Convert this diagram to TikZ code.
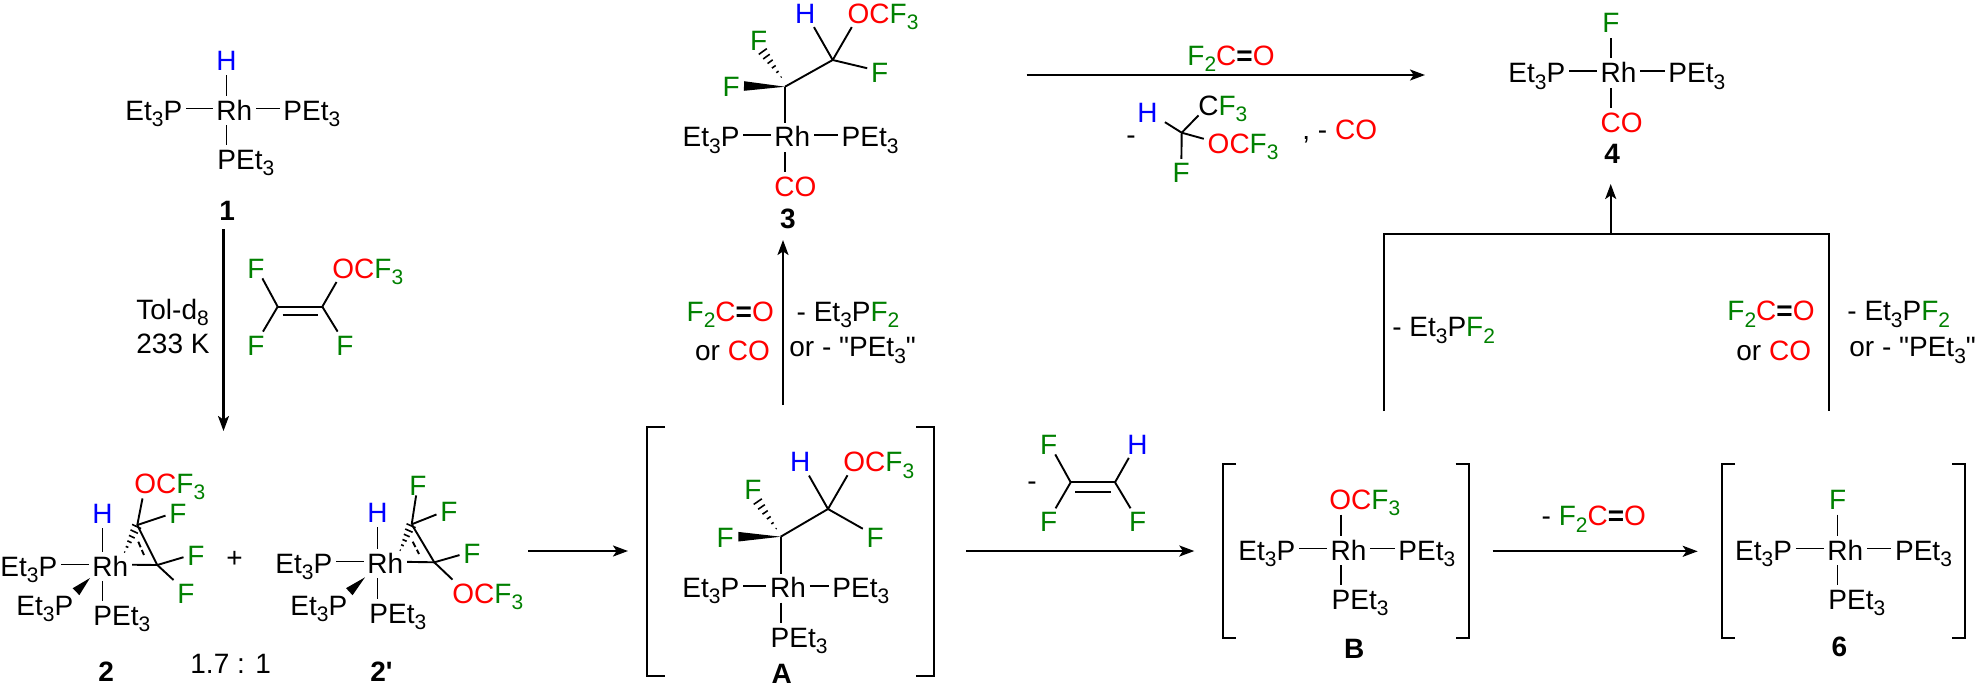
\documentclass[tikz,border=0pt]{standalone}
\usepackage{fontspec}
\newfontfamily\lsans{Liberation Sans}
\usetikzlibrary{arrows.meta,calc}
\definecolor{fgreen}{RGB}{0,128,0}
\newcommand{\subs}[1]{\raisebox{-3.2pt}{\fontsize{10.5}{12}\selectfont #1}}
\newcommand{\PEt}{PEt\subs{3}}
\newcommand{\EtP}{Et\subs{3}P}
\newcommand{\Ff}{\textcolor{fgreen}{F}}
\newcommand{\Hh}{\textcolor{blue}{H}}
\newcommand{\OCF}{\textcolor{red}{OC}\textcolor{fgreen}{F\subs{3}}}
\newcommand{\FCO}{\textcolor{fgreen}{F\subs{2}}\textcolor{red}{C}\textbf{=}\textcolor{red}{O}}
\newcommand{\COr}{\textcolor{red}{CO}}
\newcommand{\hashbond}[2]{\foreach \t [evaluate=\t as \w using 2.6*\t] in {.1,.27,.44,.61,.78,.95}
  \draw[line width=.8pt] ($(#1)!\t!(#2)!\w pt!90:(#2)$) -- ($(#1)!\t!(#2)!\w pt!-90:(#2)$);}
\newcommand{\wedgebond}[2]{\fill (#1) -- ($(#2)!2.4pt!90:(#1)$) -- ($(#2)!2.4pt!-90:(#1)$) -- cycle;}
\tikzset{
  lab/.style={anchor=base west, xshift=-2.75pt, inner xsep=1.75pt, inner ysep=0pt, text height=11.5pt, text depth=0pt, font=\lsans\fontsize{14}{16}\selectfont},
  cmpd/.style={lab, font=\lsans\fontsize{14}{16}\selectfont\bfseries},
  bond/.style={line width=.95pt},
  vb/.style={bond, shorten <=2.5pt, shorten >=.5pt},
  hb/.style={bond, shorten >=2pt},
  bracket/.style={line width=1pt},
  arr/.style={line width=1.05pt, -{Stealth[length=7.5pt,width=5.5pt,inset=1.8pt]}},
}
\begin{document}
\begin{tikzpicture}[x=0.5pt,y=-0.5pt]
\useasboundingbox (0,0) rectangle (1980,687);

\node[lab] (h1) at (218,70) {\Hh};
\node[lab] (et1) at (127,120) {\EtP};
\node[lab] (rh1) at (218,120) {Rh};
\node[lab] (pr1) at (285,120) {\PEt};
\node[lab] (pb1) at (219,169) {\PEt};
\node[cmpd] (n1) at (221,220) {1};
\coordinate (r1) at ([xshift=7pt]rh1.west);
\draw[bond] (et1) -- (rh1);
\draw[bond] (rh1) -- (pr1);
\draw[vb] (r1 |- h1.south) -- (r1 |- rh1.north);
\draw[vb] (r1 |- rh1.south) -- (r1 |- pb1.north);

\coordinate (a1s) at (223.5,229);
\coordinate (a1e) at (223.5,431);
\draw[arr] (a1s) -- (a1e);
\node[lab] (tol) at (138,319) {Tol-d\subs{8}};
\node[lab] (temp) at (138,353) {233 K};
\node[lab] (fa0) at (249,278) {\Ff};
\node[lab] (ocf0) at (334,278) {\OCF};
\node[lab] (fb0) at (249,355) {\Ff};
\node[lab] (fc0) at (338,355) {\Ff};
\coordinate (ca0) at (277.7,306.7);
\coordinate (cb0) at (322.3,306.7);
\coordinate (da0) at (282.7,315);
\coordinate (db0) at (318,315);
\draw[bond] (ca0) -- (cb0);
\draw[bond] (da0) -- (db0);
\draw[bond] (ca0) -- (fa0);
\draw[bond] (ca0) -- (fb0);
\draw[bond] (cb0) -- (fc0);
\draw[bond] (cb0) -- ([xshift=4pt,yshift=-1.8pt]ocf0.south west);

\node[lab] (h2) at (94,523) {\Hh};
\node[lab] (et2) at (2,576) {\EtP};
\node[lab] (rh2) at (94,576) {Rh};
\node[lab] (eb2) at (18,615) {\EtP};
\node[lab] (pb2) at (95,625) {\PEt};
\node[lab] (ocf2) at (136,493) {\OCF};
\node[lab] (fa2) at (171,523) {\Ff};
\node[lab] (fb2) at (189,565) {\Ff};
\node[lab] (fc2) at (179,603) {\Ff};
\node[cmpd] (n2) at (100,681) {2};
\coordinate (r2) at ([xshift=7pt]rh2.west);
\coordinate (ca2) at (137.3,525);
\coordinate (cb2) at (157.3,565);
\coordinate (ha2) at (123.3,555);
\coordinate (wa2) at (90,578);
\coordinate (wb2) at (76,591.7);
\coordinate (da2) at (138.3,541.7);
\coordinate (db2) at (144,555);
\draw[bond] (et2) -- (rh2);
\draw[vb] (r2 |- h2.south) -- (r2 |- rh2.north);
\draw[vb] (r2 |- rh2.south) -- (r2 |- pb2.north);
\draw[bond] (rh2) -- (cb2);
\draw[bond] (ca2) -- (cb2);
\draw[bond] (ca2) -- ([xshift=6pt,yshift=-2.5pt]ocf2.south west);
\draw[bond] (ca2) -- (fa2);
\draw[bond] (cb2) -- (fb2);
\draw[bond] (cb2) -- (fc2);
\draw[bond, dash pattern=on 3pt off 1.5pt] (da2) -- (db2);
\hashbond{ha2}{ca2}
\wedgebond{wa2}{wb2}

\node[lab] (plus) at (228,567) {+};
\node[lab] (ratio) at (192,673) {1.7 : 1};

\node[lab] (h3) at (369,522) {\Hh};
\node[lab] (et3) at (277,573) {\EtP};
\node[lab] (rh3) at (369,573) {Rh};
\node[lab] (eb3) at (292,615) {\EtP};
\node[lab] (pb3) at (371,623) {\PEt};
\node[lab] (ocf3) at (454,603) {\OCF};
\node[lab] (fa3) at (411,495) {\Ff};
\node[lab] (fb3) at (442,521) {\Ff};
\node[lab] (fc3) at (465,563) {\Ff};
\node[cmpd] (n3) at (372,681) {2'};
\coordinate (r3) at ([xshift=7pt]rh3.west);
\coordinate (ca3) at (411.7,524.3);
\coordinate (cb3) at (434.3,562.3);
\coordinate (ha3) at (399,553);
\coordinate (wa3) at (365,577.3);
\coordinate (wb3) at (349.3,591.7);
\coordinate (da3) at (412.7,541.7);
\coordinate (db3) at (419,554);
\draw[bond] (et3) -- (rh3);
\draw[vb] (r3 |- h3.south) -- (r3 |- rh3.north);
\draw[vb] (r3 |- rh3.south) -- (r3 |- pb3.north);
\draw[bond] (rh3) -- (cb3);
\draw[bond] (ca3) -- (cb3);
\draw[bond] (cb3) -- ([xshift=2pt]ocf3.north west);
\draw[bond] (ca3) -- (fa3);
\draw[bond] (ca3) -- (fb3);
\draw[bond] (cb3) -- (fc3);
\draw[bond, dash pattern=on 3pt off 1.5pt] (da3) -- (db3);
\hashbond{ha3}{ca3}
\wedgebond{wa3}{wb3}

\coordinate (a2s) at (528,551);
\coordinate (a2e) at (628,551);
\draw[arr] (a2s) -- (a2e);

\draw[bracket] (665,426.7) -- (646.7,426.7) -- (646.7,675.7) -- (665,675.7);
\draw[bracket] (916,426.7) -- (934,426.7) -- (934,675.7) -- (916,675.7);
\node[lab] (hA) at (791.7,471.7) {\Hh};
\node[lab] (ocfA) at (845,471.7) {\OCF};
\node[lab] (faA) at (746,499.3) {\Ff};
\node[lab] (fbA) at (718.3,547.3) {\Ff};
\node[lab] (fcA) at (868.3,547.3) {\Ff};
\node[lab] (etA) at (684,597.3) {\EtP};
\node[lab] (rhA) at (771.7,597.3) {Rh};
\node[lab] (prA) at (834,597.3) {\PEt};
\node[lab] (pbA) at (772.3,647.3) {\PEt};
\node[cmpd] (nA) at (773.3,683) {A};
\coordinate (caA) at (780.7,536.7);
\coordinate (cbA) at (828,509);
\coordinate (haA) at (778.3,531.7);
\coordinate (hbA) at (756.7,500);
\coordinate (wbA) at (738.3,536.7);
\draw[bond] (etA) -- (rhA);
\draw[bond] (rhA) -- (prA);
\draw[bond] (caA) -- (caA |- rhA.north);
\draw[vb] (caA |- rhA.south) -- (caA |- pbA.north);
\draw[bond] (caA) -- (cbA);
\draw[hb] (cbA) -- (hA);
\draw[bond] (cbA) -- ([xshift=4pt,yshift=-1.6pt]ocfA.south west);
\draw[bond] (cbA) -- (fcA);
\hashbond{haA}{hbA}
\wedgebond{caA}{wbA}

\coordinate (a3s) at (783,405);
\coordinate (a3e) at (783,240);
\draw[arr] (a3s) -- (a3e);
\node[lab] (co1) at (688.3,321) {\FCO};
\node[lab] (co2) at (696.7,360) {or \COr};
\node[lab] (lo1) at (798.3,321) {- \EtP\textcolor{fgreen}{F\subs{2}}};
\node[lab] (lo2) at (791,356.7) {or - "\PEt"};

\node[lab] (hc) at (796.7,23.3) {\Hh};
\node[lab] (ocfc) at (849.3,23.3) {\OCF};
\node[lab] (fac) at (751.7,50) {\Ff};
\node[lab] (fbc) at (724.3,96.7) {\Ff};
\node[lab] (fcc) at (872.7,82.7) {\Ff};
\node[lab] (etc) at (684.3,146.7) {\EtP};
\node[lab] (rhc) at (776,146.7) {Rh};
\node[lab] (prc) at (843.3,146.7) {\PEt};
\node[lab] (coc) at (776,196) {\COr};
\node[cmpd] (nc) at (781.7,228.3) {3};
\coordinate (cac) at (785,86.7);
\coordinate (cbc) at (832.7,60);
\coordinate (hac) at (783.3,80);
\coordinate (hbc) at (761.7,50);
\coordinate (wbc) at (744,86);
\draw[bond] (etc) -- (rhc);
\draw[bond] (rhc) -- (prc);
\draw[bond] (cac) -- (cac |- rhc.north);
\draw[vb] (cac |- rhc.south) -- (cac |- coc.north);
\draw[bond] (cac) -- (cbc);
\draw[hb] (cbc) -- (hc);
\draw[bond] (cbc) -- ([xshift=4pt,yshift=-1.7pt]ocfc.south west);
\draw[bond] (cbc) -- (fcc);
\hashbond{hac}{hbc}
\wedgebond{cac}{wbc}

\coordinate (a4s) at (1026.7,75);
\coordinate (a4e) at (1425,75);
\draw[arr] (a4s) -- (a4e);
\node[lab] (top) at (1189,65) {\FCO};
\node[lab] (dash1) at (1128,144) {-};
\node[lab] (hd) at (1139,122.7) {\Hh};
\node[lab] (cfd) at (1200,115) {C\textcolor{fgreen}{F\subs{3}}};
\node[lab] (ocfd) at (1209.3,153.3) {\OCF};
\node[lab] (fd) at (1174.3,182.3) {\Ff};
\node[lab] (lossco) at (1304,139.3) {, - \COr};
\coordinate (cd) at (1181.7,132.7);
\draw[hb] (cd) -- (hd);
\draw[bond] (cd) -- ([xshift=2pt]cfd.south west);
\draw[bond] (cd) -- ([yshift=1.5pt]ocfd.west);
\draw[bond] (cd) -- (fd);

\node[lab] (f4) at (1604,32.7) {\Ff};
\node[lab] (et4) at (1510,82.7) {\EtP};
\node[lab] (rh4) at (1602.3,82.7) {Rh};
\node[lab] (pr4) at (1670,82.7) {\PEt};
\node[lab] (co4) at (1602.3,132) {\COr};
\node[cmpd] (n4) at (1606,163.3) {4};
\coordinate (r4) at ([xshift=7pt]rh4.west);
\draw[bond] (et4) -- (rh4);
\draw[bond] (rh4) -- (pr4);
\draw[vb] (r4 |- f4.south) -- (r4 |- rh4.north);
\draw[vb] (r4 |- rh4.south) -- (r4 |- co4.north);

\coordinate (tl) at (1383.7,411);
\coordinate (tr) at (1828.6,411);
\coordinate (tm) at (1610.7,234);
\coordinate (a5e) at (1610.7,184);
\draw[line width=1.05pt] (tl) -- (tl |- tm) -- (tr |- tm) -- (tr);
\draw[arr] (tm) -- (a5e);
\node[lab] (r5a) at (1393.9,336.7) {- \EtP\textcolor{fgreen}{F\subs{2}}};
\node[lab] (r5b) at (1729,320.7) {\FCO};
\node[lab] (r5c) at (1738,360) {or \COr};
\node[lab] (r5d) at (1849,320.7) {- \EtP\textcolor{fgreen}{F\subs{2}}};
\node[lab] (r5e) at (1851,356.7) {or - "\PEt"};

\coordinate (a6s) at (966,551);
\coordinate (a6e) at (1194.3,551);
\draw[arr] (a6s) -- (a6e);
\node[lab] (dash2) at (1029,490) {-};
\node[lab] (fae) at (1041.7,454) {\Ff};
\node[lab] (he) at (1129,454) {\Hh};
\node[lab] (fbe) at (1041.7,531.7) {\Ff};
\node[lab] (fce) at (1130.7,531.7) {\Ff};
\coordinate (cae) at (1070.7,482.3);
\coordinate (cbe) at (1115,482.3);
\coordinate (dae) at (1075,491.7);
\coordinate (dbe) at (1110.7,491.7);
\draw[bond] (cae) -- (cbe);
\draw[bond] (dae) -- (dbe);
\draw[bond] (cae) -- (fae);
\draw[bond] (cae) -- (fbe);
\draw[hb] (cbe) -- (he);
\draw[bond] (cbe) -- (fce);

\draw[bracket] (1236,464) -- (1222.7,464) -- (1222.7,637.7) -- (1236,637.7);
\draw[bracket] (1455.7,464) -- (1468.7,464) -- (1468.7,637.7) -- (1455.7,637.7);
\node[lab] (ocfB) at (1331,509.3) {\OCF};
\node[lab] (etB) at (1240,560) {\EtP};
\node[lab] (rhB) at (1332.3,560) {Rh};
\node[lab] (prB) at (1400,560) {\PEt};
\node[lab] (pbB) at (1333.3,609) {\PEt};
\node[cmpd] (nB) at (1345.7,658.3) {B};
\coordinate (rB) at ([xshift=7pt]rhB.west);
\draw[bond] (etB) -- (rhB);
\draw[bond] (rhB) -- (prB);
\draw[vb] (rB |- ocfB.south) -- (rB |- rhB.north);
\draw[vb] (rB |- rhB.south) -- (rB |- pbB.north);

\coordinate (a7s) at (1492.7,551.3);
\coordinate (a7e) at (1697.7,551.3);
\draw[arr] (a7s) -- (a7e);
\node[lab] (r7) at (1543.3,525.7) {- \FCO};

\draw[bracket] (1735,464) -- (1722.3,464) -- (1722.3,637.7) -- (1735,637.7);
\draw[bracket] (1952.3,464) -- (1965,464) -- (1965,637.7) -- (1952.3,637.7);
\node[lab] (f6) at (1830.7,509.3) {\Ff};
\node[lab] (et6) at (1736.7,560) {\EtP};
\node[lab] (rh6) at (1829,560) {Rh};
\node[lab] (pr6) at (1896.7,560) {\PEt};
\node[lab] (pb6) at (1830,609) {\PEt};
\node[cmpd] (n6) at (1833.3,656.7) {6};
\coordinate (r6) at ([xshift=7pt]rh6.west);
\draw[bond] (et6) -- (rh6);
\draw[bond] (rh6) -- (pr6);
\draw[vb] (r6 |- f6.south) -- (r6 |- rh6.north);
\draw[vb] (r6 |- rh6.south) -- (r6 |- pb6.north);
\end{tikzpicture}
\end{document}
